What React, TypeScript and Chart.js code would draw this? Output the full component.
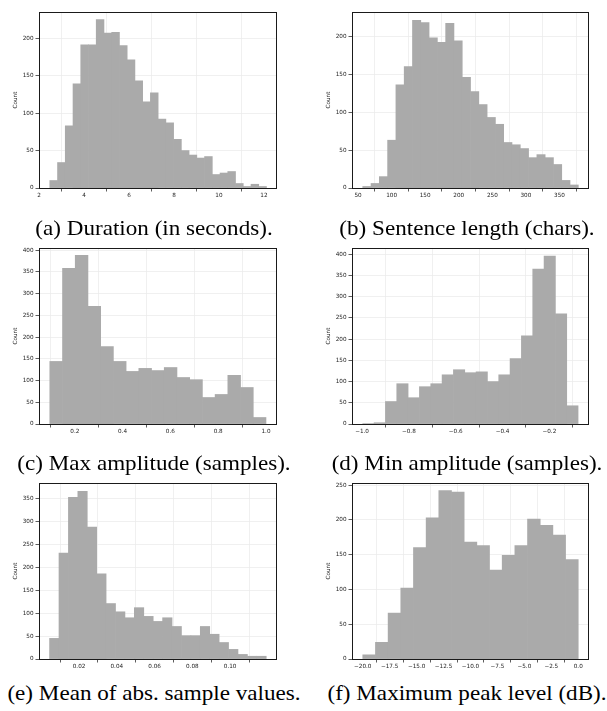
import React, { useEffect, useRef } from 'react';
import { Chart, registerables } from 'chart.js';
Chart.register(...registerables);

// ---------- data ----------
const A_COUNTS = [10, 34, 83, 139, 191, 191, 225, 207, 208, 190, 171, 143, 115, 127, 92, 87, 65, 50, 44, 40, 42, 18, 20, 22, 6, 2, 5, 2];
const A_BIN_START = 2.48;
const A_BIN_WIDTH = 0.344;
const A_X_TICKS = [2, 4, 6, 8, 10, 12];
const A_X_LABELS = ['2', '4', '6', '8', '10', '12'];
const A_Y_TICKS = [0, 50, 100, 150, 200];

const B_COUNTS = [2, 6, 15, 63, 136, 160, 221, 218, 198, 192, 217, 194, 146, 127, 110, 93, 84, 60, 57, 52, 40, 44, 40, 31, 10, 4];
const B_BIN_START = 57;
const B_BIN_WIDTH = 12.35;
const B_X_TICKS = [50, 100, 150, 200, 250, 300, 350];
const B_X_LABELS = ['50', '100', '150', '200', '250', '300', '350'];
const B_Y_TICKS = [0, 50, 100, 150, 200];

const C_COUNTS = [144, 358, 388, 271, 178, 144, 121, 128, 123, 130, 107, 102, 61, 68, 112, 84, 15];
const C_BIN_START = 0.0955;
const C_BIN_WIDTH = 0.0532;
const C_X_TICKS = [0.2, 0.4, 0.6, 0.8, 1.0];
const C_X_LABELS = ['0.2', '0.4', '0.6', '0.8', '1.0'];
const C_Y_TICKS = [0, 50, 100, 150, 200, 250, 300, 350, 400];

const D_COUNTS = [1, 3, 53, 95, 62, 88, 95, 116, 128, 121, 123, 100, 116, 154, 208, 365, 396, 260, 43];
const D_BIN_START = -0.997;
const D_BIN_WIDTH = 0.0484;
const D_X_TICKS = [-1.0, -0.8, -0.6, -0.4, -0.2];
const D_X_LABELS = ['\u22121.0', '\u22120.8', '\u22120.6', '\u22120.4', '\u22120.2'];
const D_Y_TICKS = [0, 50, 100, 150, 200, 250, 300, 350, 400];

const E_COUNTS = [45, 231, 353, 366, 288, 186, 121, 103, 90, 112, 93, 82, 90, 71, 51, 51, 71, 54, 36, 21, 10, 6, 6];
const E_BIN_START = 0.0044;
const E_BIN_WIDTH = 0.004987;
const E_X_TICKS = [0.02, 0.04, 0.06, 0.08, 0.10];
const E_X_LABELS = ['0.02', '0.04', '0.06', '0.08', '0.10'];
const E_Y_TICKS = [0, 50, 100, 150, 200, 250, 300, 350];

const F_COUNTS = [6, 24, 66, 102, 160, 203, 242, 240, 168, 163, 128, 149, 163, 201, 192, 178, 143];
const F_BIN_START = -20.0;
const F_BIN_WIDTH = 1.1765;
const F_X_TICKS = [-20, -17.5, -15, -12.5, -10, -7.5, -5, -2.5, 0];
const F_X_LABELS = ['\u221220.0', '\u221217.5', '\u221215.0', '\u221212.5', '\u221210.0', '\u22127.5', '\u22125.0', '\u22122.5', '0.0'];
const F_Y_TICKS = [0, 50, 100, 150, 200, 250];

const CAPTIONS = [
  '(a) Duration (in seconds).',
  '(b) Sentence length (chars).',
  '(c) Max amplitude (samples).',
  '(d) Min amplitude (samples).',
  '(e) Mean of abs. sample values.',
  '(f) Maximum peak level (dB).',
];

// ---------- styling / layout ----------
const BAR_COLOR = '#aaaaaa';
const TICK_FONT = { family: 'DejaVu Sans', size: 5.7 };

const framePlugin = {
  id: 'frame',
  afterDraw(chart: any) {
    const { ctx, chartArea } = chart;
    const l = Math.round(chartArea.left) + 0.5;
    const t = Math.round(chartArea.top) + 0.5;
    const r = Math.round(chartArea.right) - 0.5;
    const b = Math.round(chartArea.bottom) + 0.5;
    ctx.save();
    ctx.strokeStyle = '#1a1a1a';
    ctx.lineWidth = 1;
    ctx.strokeRect(l, t, r - l, b - t);
    ctx.restore();
  },
};

type HistProps = {
  counts: number[];
  binStart: number;
  binWidth: number;
  xMin: number;
  xMax: number;
  yMax: number;
  xTicks: number[];
  xLabels: string[];
  yTicks: number[];
  left: number;
  top: number;
  width: number;
};

function Hist(p: HistProps) {
  const ref = useRef<HTMLCanvasElement>(null);
  useEffect(() => {
    const centers = p.counts.map((_, i) => p.binStart + p.binWidth * (i + 0.5));
    const chart = new Chart(ref.current as HTMLCanvasElement, {
      type: 'bar',
      data: {
        datasets: [
          {
            data: centers.map((x, i) => ({ x, y: p.counts[i] })) as any,
            backgroundColor: BAR_COLOR,
            borderWidth: 0,
            barPercentage: 1,
            categoryPercentage: 1,
          },
        ],
      },
      options: {
        animation: false,
        responsive: false,
        devicePixelRatio: 1,
        layout: { padding: { top: 12, right: 2, left: 0, bottom: 0 } },
        plugins: { legend: { display: false }, tooltip: { enabled: false } },
        scales: {
          x: {
            type: 'linear',
            min: p.xMin,
            max: p.xMax,
            offset: false,
            afterBuildTicks: (s: any) => {
              s.ticks = p.xTicks.map((v) => ({ value: v }));
            },
            afterFit: (s: any) => {
              s.height = 14;
            },
            ticks: {
              callback: (_v: any, i: number) => p.xLabels[i],
              font: TICK_FONT,
              color: '#222',
              padding: 1,
              maxRotation: 0,
              autoSkip: false,
            },
            grid: { color: '#ececec', lineWidth: 0.8, tickColor: '#333', tickLength: 3.5, tickWidth: 0.8 },
            border: { display: false },
          },
          y: {
            type: 'linear',
            min: 0,
            max: p.yMax,
            afterBuildTicks: (s: any) => {
              s.ticks = p.yTicks.map((v) => ({ value: v }));
            },
            afterFit: (s: any) => {
              s.width = 39;
            },
            title: {
              display: true,
              text: 'Count',
              font: TICK_FONT,
              color: '#222',
              padding: { top: 12, bottom: 0 },
            },
            ticks: { font: TICK_FONT, color: '#222', padding: 2, autoSkip: false },
            grid: { color: '#ececec', lineWidth: 0.8, tickColor: '#333', tickLength: 3.5, tickWidth: 0.8 },
            border: { display: false },
          },
        },
      } as any,
      plugins: [framePlugin],
    });
    return () => chart.destroy();
  }, []);
  return (
    <canvas
      ref={ref}
      width={p.width}
      height={202}
      style={{ position: 'absolute', left: p.left, top: p.top, width: p.width, height: 202 }}
    />
  );
}

const LEFT_X = 0;
const RIGHT_X = 313;
const ROW_TOPS = [0, 236, 471];
const CAPTION_CENTERS_Y = [228, 462.5, 693];
const CAPTION_CENTERS_X = [154, 467];

function Caption({ text, cx, cy }: { text: string; cx: number; cy: number }) {
  return (
    <div
      style={{
        position: 'absolute',
        left: cx,
        top: cy - 11,
        height: 22,
        lineHeight: '22px',
        whiteSpace: 'nowrap',
        fontFamily: '"Liberation Serif", "Times New Roman", serif',
        fontSize: 21,
        color: '#000',
        transform: 'translateX(-50%) scaleX(1.1)',
      }}
    >
      {text}
    </div>
  );
}

export default function App() {
  return (
    <div style={{ position: 'absolute', left: 0, top: 0, width: 607, height: 711, background: '#fff', overflow: 'hidden' }}>
      <Hist counts={A_COUNTS} binStart={A_BIN_START} binWidth={A_BIN_WIDTH} xMin={2.0} xMax={12.58} yMax={235}
        xTicks={A_X_TICKS} xLabels={A_X_LABELS} yTicks={A_Y_TICKS} left={LEFT_X} top={ROW_TOPS[0]} width={279} />
      <Hist counts={B_COUNTS} binStart={B_BIN_START} binWidth={B_BIN_WIDTH} xMin={41} xMax={394} yMax={232}
        xTicks={B_X_TICKS} xLabels={B_X_LABELS} yTicks={B_Y_TICKS} left={RIGHT_X} top={ROW_TOPS[0]} width={278} />
      <Hist counts={C_COUNTS} binStart={C_BIN_START} binWidth={C_BIN_WIDTH} xMin={0.0503} xMax={1.046} yMax={405}
        xTicks={C_X_TICKS} xLabels={C_X_LABELS} yTicks={C_Y_TICKS} left={LEFT_X} top={ROW_TOPS[1]} width={279} />
      <Hist counts={D_COUNTS} binStart={D_BIN_START} binWidth={D_BIN_WIDTH} xMin={-1.043} xMax={-0.0307} yMax={415}
        xTicks={D_X_TICKS} xLabels={D_X_LABELS} yTicks={D_Y_TICKS} left={RIGHT_X} top={ROW_TOPS[1]} width={278} />
      <Hist counts={E_COUNTS} binStart={E_BIN_START} binWidth={E_BIN_WIDTH} xMin={-0.0012} xMax={0.1248} yMax={384}
        xTicks={E_X_TICKS} xLabels={E_X_LABELS} yTicks={E_Y_TICKS} left={LEFT_X} top={ROW_TOPS[2]} width={279} />
      <Hist counts={F_COUNTS} binStart={F_BIN_START} binWidth={F_BIN_WIDTH} xMin={-21.0} xMax={1.0} yMax={253}
        xTicks={F_X_TICKS} xLabels={F_X_LABELS} yTicks={F_Y_TICKS} left={RIGHT_X} top={ROW_TOPS[2]} width={278} />
      {CAPTIONS.map((c, i) => (
        <Caption key={i} text={c} cx={CAPTION_CENTERS_X[i % 2]} cy={CAPTION_CENTERS_Y[Math.floor(i / 2)]} />
      ))}
    </div>
  );
}
